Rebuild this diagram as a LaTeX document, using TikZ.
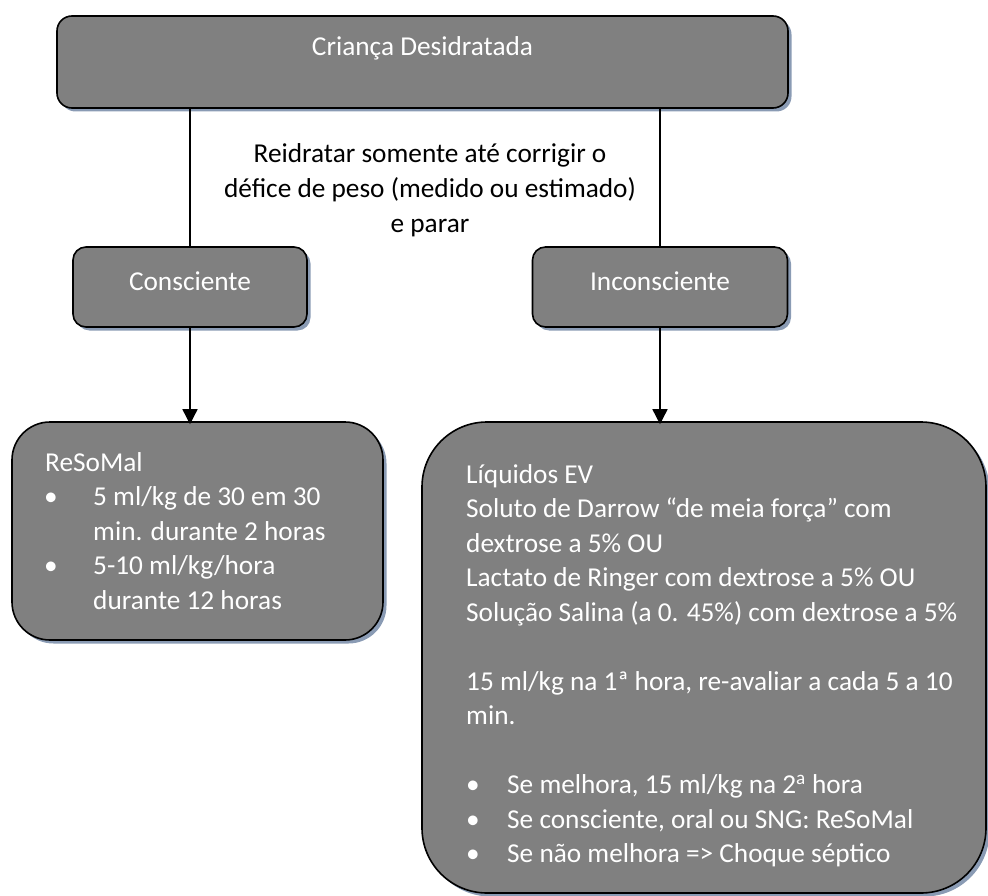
\documentclass[tikz,border=0pt]{standalone}
\usepackage{fontspec}
\setmainfont{Carlito}
\usetikzlibrary{arrows.meta,shadows}
\definecolor{boxgray}{RGB}{128,128,128}
\definecolor{shadowblue}{RGB}{138,155,180}
\begin{document}
\begin{tikzpicture}[x=1pt,y=-1pt,
  box/.style={draw=black, line width=1.6pt, fill=boxgray, inner sep=0pt,
    drop shadow={shadow xshift=3.5pt, shadow yshift=-3.5pt, fill=shadowblue, opacity=1}},
  bodyfont/.style={font=\fontsize{27.3}{34.5}\selectfont},
  wtxt/.style={bodyfont, text=white, inner sep=0pt},
  btxt/.style={bodyfont, text=black, inner sep=0pt, anchor=base},
  wl/.style={wtxt, anchor=base west},
  conn/.style={draw=black, line width=1.6pt},
  arr/.style={conn, -{Triangle[width=15pt,length=15pt]}}
]
\useasboundingbox (0,0) rectangle (988,896);

% boxes
\node[box, rounded corners=15pt, minimum width=731pt, minimum height=92pt] (top) at (422.5,62) {};
\node[box, rounded corners=13pt, minimum width=234pt, minimum height=80pt] (cons) at (190,287) {};
\node[box, rounded corners=13pt, minimum width=255pt, minimum height=80pt] (incons) at (660,287) {};
\node[box, rounded corners=38pt, minimum width=371pt, minimum height=218pt] (left) at (197.5,531) {};
\node[box, rounded corners=65pt, minimum width=564pt, minimum height=471pt] (right) at (704,657.5) {};

% box titles
\node[wtxt, anchor=base] (toptxt) at (422.5,56) {Criança Desidratada};
\node[wtxt, anchor=base] (constxt) at (190,290) {Consciente};
\node[wtxt, anchor=base] (incontxt) at (660,290) {Inconsciente};

% middle text
\node[btxt] (m1) at (430,163) {Reidratar somente até corrigir o};
\node[btxt] (m2) at (430,198) {défice de peso (medido ou estimado)};
\node[btxt] (m3) at (430,233) {e parar};

% connectors
\draw[conn] (top.south -| cons.north) -- (cons.north);
\draw[conn] (top.south -| incons.north) -- (incons.north);
\draw[arr] (cons.south) -- ([yshift=-3pt]cons.south |- left.north);
\draw[arr] (incons.south) -- ([yshift=-3pt]incons.south |- right.north);

% left box text
\node[wl] (a1) at (45,471) {ReSoMal};
\node[wl] (a2b) at (44,505.5) {•};
\node[wl] (a2) at (93,505.5) {5 ml/kg de 30 em 30};
\node[wl] (a3) at (93,540) {min. durante 2 horas};
\node[wl] (a4b) at (44,574.5) {•};
\node[wl] (a4) at (93,574.5) {5-10 ml/kg/hora};
\node[wl] (a5) at (93,609) {durante 12 horas};

% right box text
\node[wl] (b1) at (466,483) {Líquidos EV};
\node[wl] (b2) at (466,517.5) {Soluto de Darrow “de meia força” com};
\node[wl] (b3) at (466,552) {dextrose a 5\% OU};
\node[wl] (b4) at (466,586.5) {Lactato de Ringer com dextrose a 5\% OU};
\node[wl] (b5) at (466,621) {Solução Salina (a 0. 45\%) com dextrose a 5\%};
\node[wl] (b6) at (466,690) {15 ml/kg na 1ª hora, re-avaliar a cada 5 a 10};
\node[wl] (b7) at (466,724.5) {min.};
\node[wl] (b8b) at (466,793.5) {•};
\node[wl] (b8) at (507,793.5) {Se melhora, 15 ml/kg na 2\textsuperscript{a} hora};
\node[wl] (b9b) at (466,828) {•};
\node[wl] (b9) at (507,828) {Se consciente, oral ou SNG: ReSoMal};
\node[wl] (b10b) at (466,862.5) {•};
\node[wl] (b10) at (507,862.5) {Se não melhora => Choque séptico};
\end{tikzpicture}
\end{document}
